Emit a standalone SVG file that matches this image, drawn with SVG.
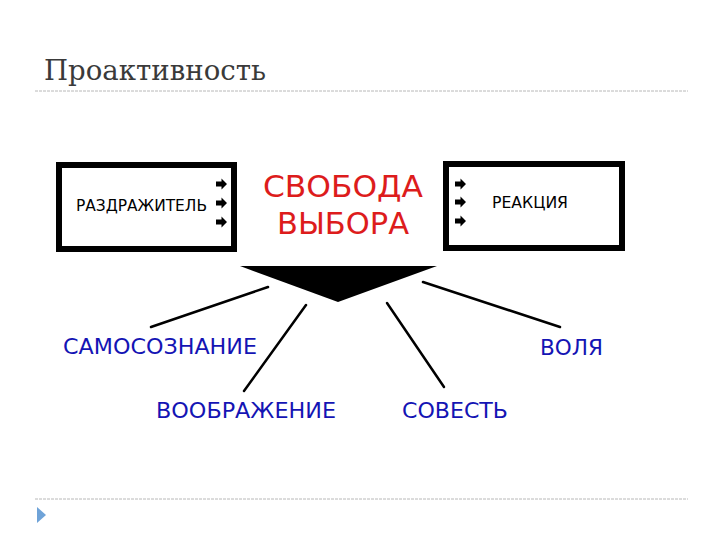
<svg xmlns="http://www.w3.org/2000/svg" width="720" height="540" viewBox="0 0 720 540">
<defs>
<style>
.title{font-family:"DejaVu Serif","Liberation Serif",serif;font-size:28px;fill:#3a3a3a}
.rule{stroke:#b8b8b8;stroke-width:1;stroke-dasharray:3,1}
.box{fill:#fff;stroke:#000;stroke-width:6}
.boxtxt{font-family:"DejaVu Sans","Liberation Sans",sans-serif;font-size:16px;fill:#000}
.red{font-family:"DejaVu Sans","Liberation Sans",sans-serif;font-size:30px;fill:#dd1c1c}
.blue{font-family:"DejaVu Sans","Liberation Sans",sans-serif;font-size:21px;fill:#1414b4}
.ray{stroke:#000;stroke-width:2.5;stroke-linecap:round}
</style>
<path id="arr" d="M0,-2.5 H5.5 V-5.5 L11,0 L5.5,5.5 V2.5 H0 Z" fill="#000"/>
</defs>
<text class="title" x="44" y="80" textLength="222" lengthAdjust="spacingAndGlyphs">Проактивность</text>
<line class="rule" x1="35" y1="91" x2="688" y2="91"/>
<line class="rule" x1="35" y1="499" x2="688" y2="499"/>
<path d="M37,507 L46,515 L37,523 Z" fill="#6fa3d8"/>

<g id="stimulus">
<rect class="box" x="59" y="165" width="175" height="84"/>
<text class="boxtxt" x="76" y="211" textLength="131" lengthAdjust="spacingAndGlyphs">РАЗДРАЖИТЕЛЬ</text>
<use href="#arr" x="216" y="184"/>
<use href="#arr" x="216" y="203"/>
<use href="#arr" x="216" y="222"/>
</g>
<g id="reaction">
<rect class="box" x="446" y="164" width="176" height="84"/>
<text class="boxtxt" x="492" y="208" font-size="15" textLength="76" lengthAdjust="spacingAndGlyphs">РЕАКЦИЯ</text>
<use href="#arr" x="455" y="184"/>
<use href="#arr" x="455" y="202"/>
<use href="#arr" x="455" y="221"/>
</g>
<g id="freedom">
<text class="red" x="263" y="197" textLength="160" lengthAdjust="spacingAndGlyphs">СВОБОДА</text>
<text class="red" x="277" y="234" textLength="132" lengthAdjust="spacingAndGlyphs">ВЫБОРА</text>
<path d="M240,266 L437,266 L338,302 Z" fill="#000"/>
</g>
<g id="connectors">
<line class="ray" x1="268" y1="287" x2="151" y2="327"/>
<line class="ray" x1="306" y1="305" x2="244" y2="391"/>
<line class="ray" x1="387" y1="303" x2="444" y2="387"/>
<line class="ray" x1="423" y1="282" x2="560" y2="327"/>
</g>
<g id="self-awareness"><text class="blue" x="63" y="354" textLength="194" lengthAdjust="spacingAndGlyphs">САМОСОЗНАНИЕ</text></g>
<g id="imagination"><text class="blue" x="156" y="418" textLength="180" lengthAdjust="spacingAndGlyphs">ВООБРАЖЕНИЕ</text></g>
<g id="conscience"><text class="blue" x="402" y="418" textLength="106" lengthAdjust="spacingAndGlyphs">СОВЕСТЬ</text></g>
<g id="will"><text class="blue" x="540" y="355" textLength="63" lengthAdjust="spacingAndGlyphs">ВОЛЯ</text></g>
</svg>
